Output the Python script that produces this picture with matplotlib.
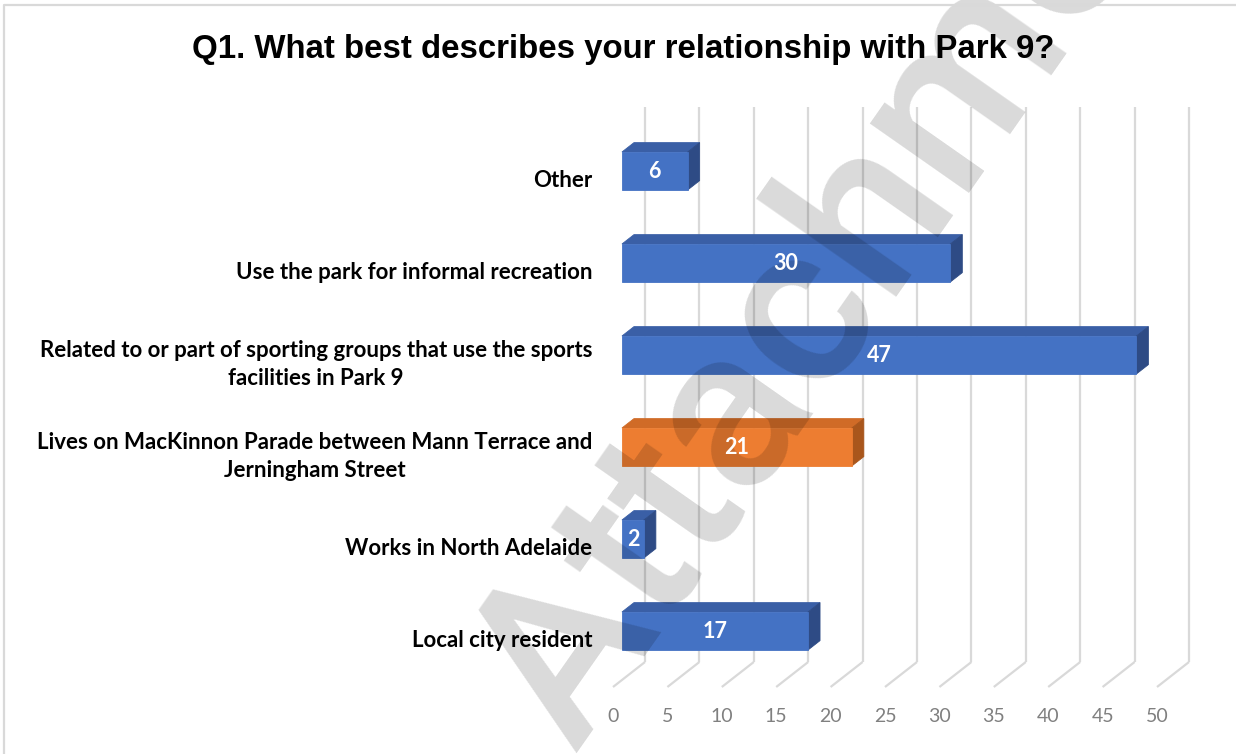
import matplotlib
matplotlib.use("Agg")
import matplotlib.pyplot as plt
from matplotlib.patches import Polygon
from matplotlib.lines import Line2D

# ---- data -------------------------------------------------------------
categories = [
    "Local city resident",
    "Works in North Adelaide",
    "Lives on MacKinnon Parade between Mann Terrace and\nJerningham Street",
    "Related to or part of sporting groups that use the sports\nfacilities in Park 9",
    "Use the park for informal recreation",
    "Other",
]
responses = [17, 2, 21, 47, 30, 6]
highlighted = "Lives on MacKinnon Parade between Mann Terrace and\nJerningham Street"
x_ticks = [0, 5, 10, 15, 20, 25, 30, 35, 40, 45, 50]
title = "Q1. What best describes your relationship with Park 9?"
watermark = "Attachment"

# ---- figure geometry --------------------------------------------------
W, H, DPI = 1236, 754, 100
fig = plt.figure(figsize=(W / DPI, H / DPI), dpi=DPI)
fig.patch.set_facecolor("white")
ax = fig.add_axes([0, 0, 1, 1])
ax.set_axis_off()

PX_PER_UNIT = 10.88          # horizontal scale of the value axis
X0_BACK = 645                # pixel column of value 0 on the back wall
ROW_PX = 92                  # distance between category rows
Y0_ROW = 631                 # pixel row of the first category
ax.set_xlim(-X0_BACK / PX_PER_UNIT, (W - X0_BACK) / PX_PER_UNIT)
ax.set_ylim((Y0_ROW - H) / ROW_PX, Y0_ROW / ROW_PX)


def py(px_row):
    """Convert a pixel row (from top) into the y data units of the axes."""
    return (Y0_ROW - px_row) / ROW_PX


# oblique depth direction of the 3-D box (front -> back)
DEPTH_X = 32 / PX_PER_UNIT
DEPTH_Y = 25 / ROW_PX
BAR_FRONT = 0.28             # depth fraction where the bars start
BAR_DEPTH = 0.375            # depth fraction taken by the bars
BAR_H = 38 / ROW_PX          # height of the bar front face
FRONT_SCALE = 1.006          # bar fronts sit slightly nearer the viewer

grid_c = "#d9d9d9"
floor_front, floor_back, wall_top = py(687), py(662), py(107)

# back wall gridlines and floor lines
for v in x_ticks:
    ax.plot([v, v], [floor_back, wall_top], color=grid_c, lw=1.6, zorder=1,
            solid_capstyle="butt")
    ax.plot([v - DEPTH_X, v], [floor_front, floor_back], color=grid_c,
            lw=1.6, zorder=1, solid_capstyle="butt")
    ax.text(v - DEPTH_X, py(717), str(v), ha="center", va="center",
            fontsize=14, color="#808080", family="Lato")

# ---- 3-D bars ---------------------------------------------------------
blue = ("#4472c4", "#3a5fa6", "#2e4b85")
orange = ("#ed7d31", "#d06b27", "#a9561c")

dx = DEPTH_X * BAR_DEPTH
dy = DEPTH_Y * BAR_DEPTH
x_shift = DEPTH_X * (1 - BAR_FRONT)

for i, (cat, val) in enumerate(zip(categories, responses)):
    front_c, top_c, side_c = orange if cat == highlighted else blue
    x0 = -x_shift
    x1 = val * FRONT_SCALE - x_shift
    y0 = i - BAR_H / 2
    y1 = i + BAR_H / 2
    ax.add_patch(Polygon([(x0, y1), (x1, y1), (x1 + dx, y1 + dy), (x0 + dx, y1 + dy)],
                         closed=True, facecolor=top_c, edgecolor=top_c, lw=0.6, zorder=3))
    ax.add_patch(Polygon([(x1, y0), (x1 + dx, y0 + dy), (x1 + dx, y1 + dy), (x1, y1)],
                         closed=True, facecolor=side_c, edgecolor=side_c, lw=0.6, zorder=3))
    ax.add_patch(Polygon([(x0, y0), (x1, y0), (x1, y1), (x0, y1)],
                         closed=True, facecolor=front_c, edgecolor=front_c, lw=0.6, zorder=4))
    ax.text((x0 + x1) / 2, i, str(val), ha="center", va="center",
            fontsize=15.5, fontweight="bold", color="white", family="Lato", zorder=6)
    ax.text((592 - X0_BACK) / PX_PER_UNIT, i - 0.1, cat, ha="right", va="center",
            multialignment="center", fontsize=16, fontweight="bold",
            color="black", family="Lato", linespacing=1.4, zorder=6)

# ---- title ------------------------------------------------------------
fig.text(623.5 / W, 1 - 58 / H, title, ha="center", va="baseline",
         fontsize=23.8, fontweight="bold", family="Liberation Sans", color="black")

# ---- chart frame (top and left edges) ---------------------------------
fig.add_artist(Line2D([4 / W, 4 / W, 1], [0, 1 - 5 / H, 1 - 5 / H],
                      transform=fig.transFigure, color="#d9d9d9", lw=1.6))

# ---- watermark (above the bars, below the labels) ----------------------
ax.text(575 / W, 1 - 753 / H, watermark, transform=fig.transFigure,
        rotation=55, rotation_mode="anchor", ha="left", va="baseline",
        fontsize=164, fontweight="medium", family="Roboto",
        color="black", alpha=0.15, zorder=5, clip_on=False)

fig.savefig("out.png", dpi=DPI, facecolor="white")
